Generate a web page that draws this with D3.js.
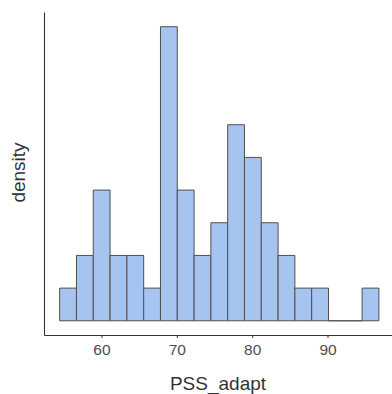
<!DOCTYPE html>
<html>
<head>
<meta charset="utf-8">
<script src="https://cdn.jsdelivr.net/npm/d3@7"></script>
<style>
  html, body { margin: 0; padding: 0; background: #fff; }
  svg { display: block; }
</style>
</head>
<body>
<svg id="chart" width="392" height="394"></svg>
<script>
// Histogram bins of PSS_adapt: first edge, bin width and count per bin
const binStart = 54.45;
const binWidth = 2.23;
const binCounts = [1, 2, 4, 2, 2, 1, 9, 4, 2, 3, 6, 5, 3, 2, 1, 1, 0, 0, 1];
const xTicks = [60, 70, 80, 90];
const xLabel = "PSS_adapt";
const yLabel = "density";

const svg = d3.select("#chart");
const plot = { left: 44, right: 392, top: 12, bottom: 335 };

const bins = binCounts.map((c, i) => ({
  x0: binStart + i * binWidth,
  x1: binStart + (i + 1) * binWidth,
  count: c
}));

const x = d3.scaleLinear()
  .domain([52.37, 98.56])
  .range([plot.left, plot.right]);

const y = d3.scaleLinear()
  .domain([-0.435, 9.45])
  .range([plot.bottom, plot.top]);

// bars as closed paths so empty bins still show their outline on the baseline
function barPath(d) {
  const p = d3.path();
  const x0 = x(d.x0), x1 = x(d.x1), y0 = y(0), y1 = y(d.count);
  p.moveTo(x0, y0);
  p.lineTo(x0, y1);
  p.lineTo(x1, y1);
  p.lineTo(x1, y0);
  p.closePath();
  return p.toString();
}

svg.append("g")
  .selectAll("path")
  .data(bins)
  .join("path")
  .attr("d", barPath)
  .attr("fill", "#a6c4f0")
  .attr("stroke", "#4f4f4f")
  .attr("stroke-width", 1);

// x axis
const xAxis = d3.axisBottom(x)
  .tickValues(xTicks)
  .tickSize(3)
  .tickPadding(6)
  .tickSizeOuter(0);

const gx = svg.append("g")
  .attr("transform", `translate(0,${plot.bottom})`)
  .call(xAxis);
gx.select(".domain").attr("stroke", "#333").attr("stroke-width", 1.1);
gx.selectAll(".tick line").attr("stroke", "#333");
gx.selectAll(".tick text")
  .attr("fill", "#4d4d4d")
  .attr("font-family", "Liberation Sans, Arial, sans-serif")
  .attr("font-size", 15.5);

// y axis (line only)
const yAxis = d3.axisLeft(y).tickValues([]).tickSizeOuter(0);
const gy = svg.append("g")
  .attr("transform", `translate(${plot.left},0)`)
  .call(yAxis);
gy.select(".domain").attr("stroke", "#333").attr("stroke-width", 1.1);

// axis titles
svg.append("text")
  .attr("x", (plot.left + plot.right) / 2)
  .attr("y", 390)
  .attr("text-anchor", "middle")
  .attr("fill", "#333")
  .attr("font-family", "Liberation Sans, Arial, sans-serif")
  .attr("font-size", 19)
  .text(xLabel);

svg.append("text")
  .attr("transform", `translate(25,${(plot.top + plot.bottom) / 2 - 1}) rotate(-90)`)
  .attr("text-anchor", "middle")
  .attr("fill", "#333")
  .attr("font-family", "Liberation Sans, Arial, sans-serif")
  .attr("font-size", 19)
  .text(yLabel);
</script>
</body>
</html>
